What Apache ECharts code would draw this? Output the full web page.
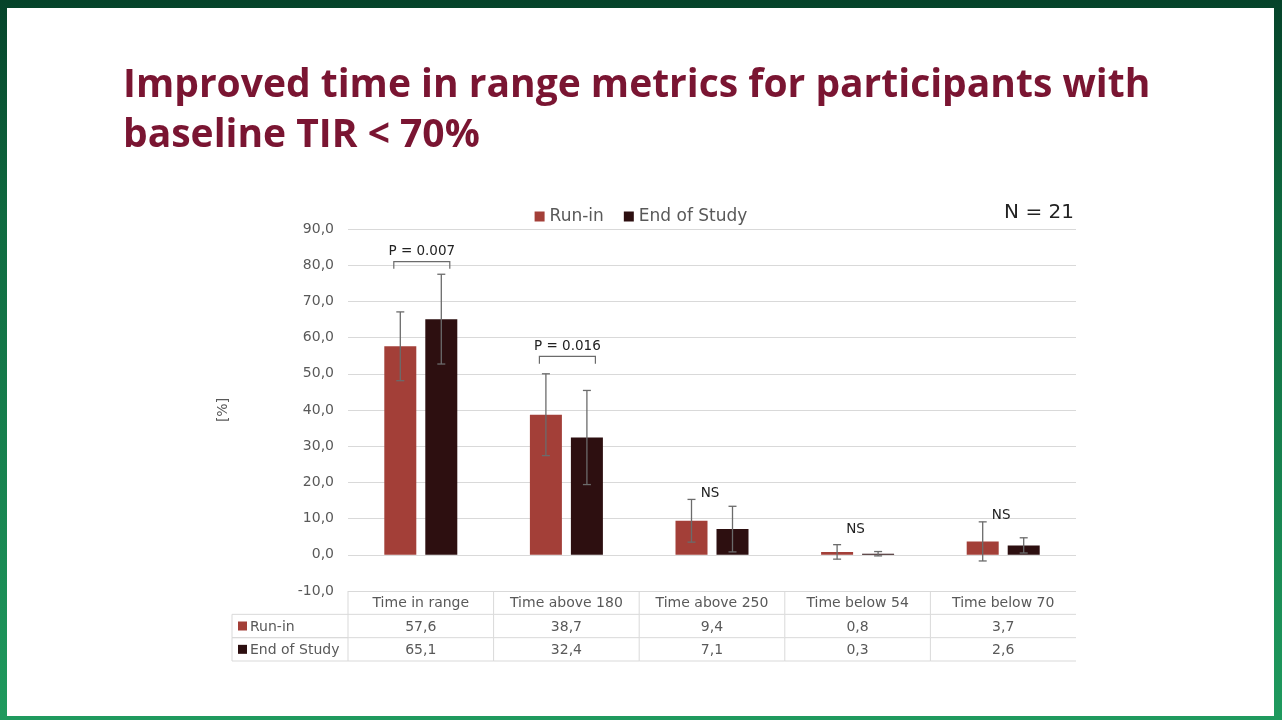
<!DOCTYPE html>
<html>
<head>
<meta charset="utf-8">
<script src="https://cdn.jsdelivr.net/npm/echarts@6/dist/echarts.min.js"></script>
<style>
  html, body { margin: 0; padding: 0; }
  #frame {
    position: relative; width: 1282px; height: 720px; overflow: hidden;
    background: linear-gradient(180deg, #05432a 0%, #0f6a40 30%, #1f9a5e 100%);
  }
  #slide { position: absolute; left: 7px; top: 8px; width: 1267px; height: 708px; background: #fff; }
  #main { position: absolute; left: 0; top: 0; width: 1282px; height: 720px; }
</style>
</head>
<body>
<div id="frame">
  <div id="slide"></div>
  <div id="main"></div>
</div>
<script>
// 数据
var categories = ['Time in range', 'Time above 180', 'Time above 250', 'Time below 54', 'Time below 70'];
var seriesNames = ['Run-in', 'End of Study'];
var runIn = [57.6, 38.7, 9.4, 0.8, 3.7];
var endStudy = [65.1, 32.4, 7.1, 0.3, 2.6];
var runInSD = [9.5, 11.3, 5.9, 2.0, 5.4];
var endSD = [12.4, 13.0, 6.3, 0.6, 2.1];
var yTicks = { min: -10, max: 90, interval: 10 };
// 显著性标注
var pCats = [0, 1];
var pTexts = ['P = 0.007', 'P = 0.016'];
var pLevels = [81, 54.8];
var nsCats = [2, 3, 4];
var nsLevels = [17, 6.9, 10.8];

var colors = ['#a33f38', '#2d0f10'];
var textColor = '#595959';
var lineColor = '#d9d9d9';
var font = 'DejaVu Sans';
var barW = 32, barGap = 9;
var offs = (barW + barGap) / 2;

function fmt(v) { return v.toFixed(1).replace('.', ','); }

// 误差线
function errData(vals, sd) {
  var out = [];
  for (var i = 0; i < vals.length; i++) out.push([i, vals[i] - sd[i], vals[i] + sd[i]]);
  return out;
}
function errRender(dx) {
  return function (params, api) {
    var x = api.coord([api.value(0), 0])[0] + dx;
    var lo = api.coord([api.value(0), api.value(1)])[1];
    var hi = api.coord([api.value(0), api.value(2)])[1];
    var st = { stroke: '#6b6b6b', lineWidth: 1.3 };
    return { type: 'group', children: [
      { type: 'line', shape: { x1: x, y1: lo, x2: x, y2: hi }, style: st },
      { type: 'line', shape: { x1: x - 4, y1: lo, x2: x + 4, y2: lo }, style: st },
      { type: 'line', shape: { x1: x - 4, y1: hi, x2: x + 4, y2: hi }, style: st }
    ]};
  };
}

// 表格数据
var tableRows = ['', seriesNames[0], seriesNames[1]];
var tableData = [];
for (var i = 0; i < categories.length; i++) {
  tableData.push([i, 0, categories[i]]);
  tableData.push([i, 1, fmt(runIn[i])]);
  tableData.push([i, 2, fmt(endStudy[i])]);
}

var pData = pCats.map(function (c, k) { return [c, pLevels[k], pTexts[k]]; });
var nsData = nsCats.map(function (c, k) { return [c, nsLevels[k], 'NS']; });

var dom = document.getElementById('main');
var myChart = echarts.init(dom, null, { renderer: 'canvas' });

var option = {
  backgroundColor: 'transparent',
  animation: false,
  title: {
    text: 'Improved time in range metrics for participants with\nbaseline TIR < 70%',
    left: 118, top: 56,
    textStyle: { fontFamily: 'Open Sans', fontWeight: 'bold', fontSize: 39, lineHeight: 50, color: '#7a1532' }
  },
  legend: {
    data: seriesNames,
    left: 'center', top: 203,
    icon: 'rect', itemWidth: 10, itemHeight: 10, itemGap: 20,
    textStyle: { fontFamily: font, fontSize: 17, color: textColor }
  },
  graphic: [{
    type: 'text', right: 208, top: 203,
    style: { text: 'N = 21', fontFamily: font, fontSize: 20, fill: '#222' }
  }],
  grid: [
    { left: 348, right: 206, top: 229, bottom: 129 },
    { left: 348, right: 206, top: 591, height: 70 }
  ],
  xAxis: [
    { type: 'category', gridIndex: 0, data: categories,
      axisLine: { show: false }, axisTick: { show: false }, axisLabel: { show: false } },
    { type: 'category', gridIndex: 1, data: categories,
      axisLine: { show: false }, axisTick: { show: false }, axisLabel: { show: false } }
  ],
  yAxis: [
    { type: 'value', gridIndex: 0, min: yTicks.min, max: yTicks.max, interval: yTicks.interval,
      name: '[%]', nameLocation: 'middle', nameGap: 118,
      nameTextStyle: { fontFamily: font, fontSize: 14, color: textColor },
      axisLine: { show: false }, axisTick: { show: false },
      axisLabel: { formatter: fmt, fontFamily: font, fontSize: 14, color: textColor, margin: 14 },
      splitLine: { lineStyle: { color: lineColor, width: 1 } } },
    { type: 'category', gridIndex: 1, data: tableRows, inverse: true,
      axisLine: { show: false }, axisTick: { show: false }, axisLabel: { show: false } }
  ],
  series: [
    { name: seriesNames[0], type: 'bar', data: runIn, barWidth: barW, barGap: (barGap / barW * 100) + '%',
      itemStyle: { color: colors[0] } },
    { name: seriesNames[1], type: 'bar', data: endStudy, barWidth: barW,
      itemStyle: { color: colors[1] } },
    { type: 'custom', data: errData(runIn, runInSD), renderItem: errRender(-offs), z: 5, silent: true },
    { type: 'custom', data: errData(endStudy, endSD), renderItem: errRender(offs), z: 5, silent: true },
    { type: 'custom', data: pData, z: 5, silent: true,
      renderItem: function (params, api) {
        var c = api.coord([api.value(0), api.value(1)]);
        var yLeg = api.coord([api.value(0), api.value(1) - 2])[1];
        var x1 = c[0] - 27, x2 = c[0] + 29;
        var st = { stroke: '#6b6b6b', lineWidth: 1.2 };
        return { type: 'group', children: [
          { type: 'polyline', shape: { points: [[x1, yLeg], [x1, c[1]], [x2, c[1]], [x2, yLeg]] }, style: Object.assign({ fill: null }, st) },
          { type: 'text', x: (x1 + x2) / 2, y: c[1] - 3,
            style: { text: pTexts[params.dataIndex], fontFamily: font, fontSize: 13.5, fill: '#222', align: 'center', verticalAlign: 'bottom' } }
        ]};
      } },
    { type: 'custom', data: nsData, z: 5, silent: true,
      renderItem: function (params, api) {
        var c = api.coord([api.value(0), api.value(1)]);
        return { type: 'text', x: c[0] - 2, y: c[1],
          style: { text: 'NS', fontFamily: font, fontSize: 13.5, fill: '#222', align: 'center', verticalAlign: 'middle' } };
      } },
    // 数据表
    { type: 'custom', xAxisIndex: 1, yAxisIndex: 1, data: tableData, silent: true,
      renderItem: function (params, api) {
        var col = api.value(0), row = api.value(1);
        var c = api.coord([col, row]);
        var s = api.size([1, 1]);
        var l = c[0] - s[0] / 2, t = c[1] - s[1] / 2, b = t + s[1];
        var st = { stroke: lineColor, lineWidth: 1 };
        var kids = [
          { type: 'line', shape: { x1: l, y1: t, x2: l, y2: b }, style: st },
          { type: 'line', shape: { x1: l, y1: b, x2: l + s[0], y2: b }, style: st },
          { type: 'text', x: c[0], y: c[1] + 1,
            style: { text: tableData[params.dataIndex][2], fontFamily: font, fontSize: 14, fill: textColor, align: 'center', verticalAlign: 'middle' } }
        ];
        if (col === 0 && row > 0) {
          var lw = 116;
          kids.push({ type: 'line', shape: { x1: l - lw, y1: t, x2: l - lw, y2: b }, style: st });
          kids.push({ type: 'line', shape: { x1: l - lw, y1: b, x2: l, y2: b }, style: st });
          kids.push({ type: 'line', shape: { x1: l - lw, y1: t, x2: l, y2: t }, style: st });
          kids.push({ type: 'rect', shape: { x: l - lw + 6, y: c[1] - 4.5, width: 9, height: 9 }, style: { fill: colors[row - 1] } });
          kids.push({ type: 'text', x: l - lw + 18, y: c[1] + 1,
            style: { text: tableRows[row], fontFamily: font, fontSize: 14, fill: textColor, align: 'left', verticalAlign: 'middle' } });
        }
        return { type: 'group', children: kids };
      } }
  ]
};

if (option && typeof option === "object") {
  myChart.setOption(option, true);
}
</script>
</body>
</html>
